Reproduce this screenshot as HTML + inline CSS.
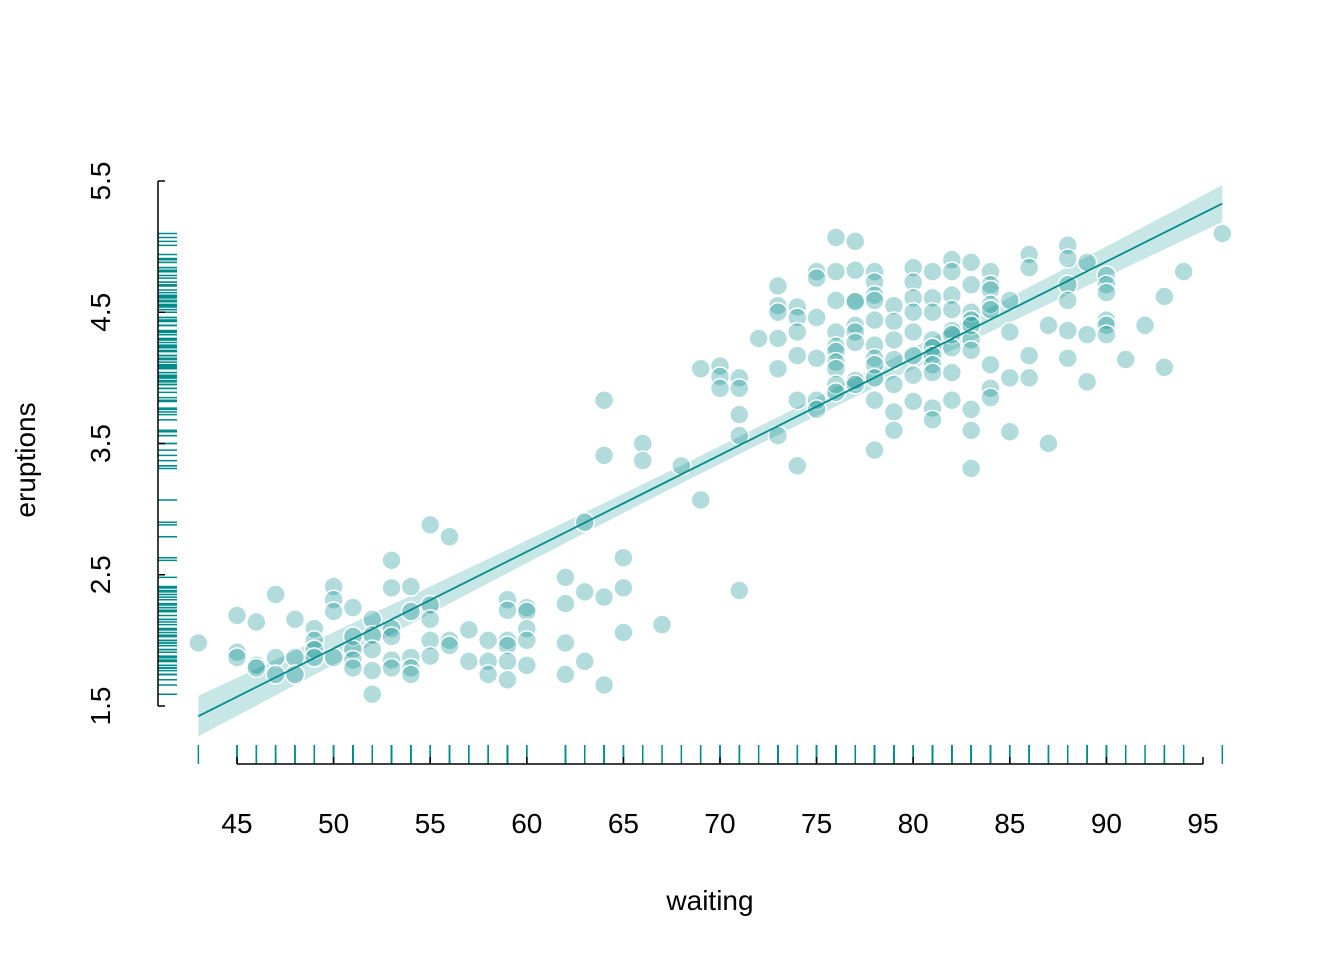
<!DOCTYPE html>
<html><head><meta charset="utf-8"><style>
html,body{margin:0;padding:0;background:#fff;overflow:hidden;width:1344px;height:960px}
svg{display:block}
svg text{font-family:"Liberation Sans",sans-serif;fill:#000}
</style></head><body>
<svg id="chart" width="1344" height="960">
<text x="710" y="910" font-size="28" text-anchor="middle">waiting</text>
<text x="35" y="460" font-size="28" text-anchor="middle" transform="rotate(-90 35 460)">eruptions</text>
</svg>
<script>
const waiting=[43,45,45,45,46,46,46,47,47,47,48,48,48,49,49,49,49,50,50,50,50,51,51,51,51,51,52,52,52,52,52,53,53,53,53,53,53,54,54,54,54,54,55,55,55,55,55,56,56,56,57,57,58,58,58,59,59,59,59,59,59,60,60,60,60,60,62,62,62,62,63,63,63,64,64,64,64,65,65,65,66,66,67,68,69,69,70,70,70,71,71,71,71,71,72,73,73,73,73,73,73,74,74,74,74,74,74,75,75,75,75,75,75,76,76,76,76,76,76,76,76,76,76,77,77,77,77,77,77,77,77,77,78,78,78,78,78,78,78,78,78,78,78,79,79,79,79,79,79,79,80,80,80,80,80,80,80,80,81,81,81,81,81,81,81,81,81,81,82,82,82,82,82,82,82,82,82,83,83,83,83,83,83,83,83,83,83,84,84,84,84,84,84,84,84,85,85,85,85,86,86,86,86,87,87,88,88,88,88,88,88,89,89,89,90,90,90,90,90,90,91,92,93,93,94,96];
const eruptions=[1.98,2.19,1.91,1.87,2.14,1.81,1.79,2.35,1.87,1.74,2.16,1.87,1.74,2.09,2.00,1.93,1.87,2.41,2.31,2.22,1.87,2.25,2.03,1.93,1.85,1.79,2.16,2.04,1.93,1.77,1.59,2.61,2.40,2.09,2.03,1.85,1.79,2.41,2.22,1.87,1.79,1.74,2.88,2.27,2.16,2.00,1.88,2.79,2.00,1.96,2.08,1.84,2.00,1.84,1.74,2.31,2.23,2.00,1.96,1.84,1.70,2.25,2.22,2.09,2.00,1.81,2.48,2.28,1.98,1.74,2.90,2.37,1.84,3.83,3.41,2.33,1.66,2.63,2.40,2.06,3.50,3.37,2.12,3.33,4.07,3.07,4.09,4.01,3.92,4.00,3.92,3.72,3.56,2.38,4.30,4.70,4.55,4.50,4.30,4.07,3.56,4.54,4.46,4.35,4.17,3.83,3.33,4.81,4.76,4.46,4.15,3.83,3.76,5.07,4.81,4.59,4.35,4.24,4.20,4.12,4.07,3.95,3.89,5.04,4.82,4.59,4.58,4.40,4.35,4.27,3.98,3.95,4.81,4.73,4.63,4.59,4.44,4.25,4.15,4.10,4.00,3.83,3.45,4.55,4.43,4.29,4.14,3.95,3.74,3.60,4.84,4.73,4.61,4.50,4.35,4.17,4.02,3.82,4.81,4.61,4.50,4.29,4.23,4.17,4.10,4.04,3.77,3.68,4.90,4.81,4.63,4.52,4.36,4.33,4.23,4.04,3.83,4.88,4.71,4.50,4.44,4.40,4.29,4.21,3.76,3.60,3.31,4.81,4.71,4.67,4.56,4.52,4.10,3.92,3.85,4.59,4.35,4.00,3.59,4.94,4.84,4.17,4.00,4.40,3.50,5.01,4.91,4.71,4.59,4.36,4.15,4.88,4.33,3.97,4.78,4.71,4.65,4.44,4.40,4.33,4.14,4.40,4.62,4.08,4.81,5.10];
const xTicks=[45,50,55,60,65,70,75,80,85,90,95];
const yTicks=[1.5,2.5,3.5,4.5,5.5];

const NS="http://www.w3.org/2000/svg";
const svg=document.getElementById('chart');
const sx=v=>237+(v-45)*19.32;
const sy=v=>706-(v-1.5)*131.25;
function mk(tag,attrs,parent){const e=document.createElementNS(NS,tag);for(const k in attrs)e.setAttribute(k,attrs[k]);(parent||svg).appendChild(e);return e;}

const n=waiting.length;
const mx=waiting.reduce((a,b)=>a+b,0)/n, my=eruptions.reduce((a,b)=>a+b,0)/n;
let sxx=0,sxy=0;for(let i=0;i<n;i++){sxx+=(waiting[i]-mx)**2;sxy+=(waiting[i]-mx)*(eruptions[i]-my);}
const b=sxy/sxx,a=my-b*mx;
let sse=0;for(let i=0;i<n;i++)sse+=(eruptions[i]-a-b*waiting[i])**2;
const s=Math.sqrt(sse/(n-2));
const xmin=Math.min(...waiting),xmax=Math.max(...waiting);
let up=[],lo=[];
for(let k=0;k<=60;k++){const x=xmin+(xmax-xmin)*k/60;const se=s*Math.sqrt(1/n+(x-mx)**2/sxx)*1.97;const f=a+b*x;up.push(sx(x)+','+sy(f+se));lo.unshift(sx(x)+','+sy(f-se));}
const band=mk('polygon',{points:up.concat(lo).join(' '),fill:'rgba(0,139,139,0.22)',stroke:'none'});



const g=mk('g',{});


for(let i=0;i<n;i++){const c=mk('circle',{cx:sx(waiting[i]),cy:sy(eruptions[i]),r:9.5,fill:'rgba(0,139,139,0.3)',stroke:'#fff','stroke-width':1.5},g);

}

const rl=mk('line',{x1:sx(xmin),y1:sy(a+b*xmin),x2:sx(xmax),y2:sy(a+b*xmax),stroke:'#008b8b','stroke-width':1.8});



const rx=mk('g',{});


waiting.forEach(w=>mk('line',{x1:sx(w),x2:sx(w),y1:745,y2:764,stroke:'#008b8b','stroke-width':1.5},rx));
const ry=mk('g',{});


eruptions.forEach(e=>mk('line',{x1:158,x2:177,y1:sy(e),y2:sy(e),stroke:'#008b8b','stroke-width':1.5},ry));

const xa=mk('g',{});


mk('line',{x1:sx(45),x2:sx(95),y1:764,y2:764,stroke:'#000','stroke-width':1.5},xa);
xTicks.forEach(t=>{mk('line',{x1:sx(t),x2:sx(t),y1:764,y2:757,stroke:'#000','stroke-width':1.5},xa);
const tx=mk('text',{x:sx(t),y:833,'font-size':28,'text-anchor':'middle'},xa);tx.textContent=t;

});
const ya=mk('g',{});


mk('line',{x1:158,x2:158,y1:sy(1.5),y2:sy(5.5),stroke:'#000','stroke-width':1.5},ya);
yTicks.forEach(t=>{mk('line',{x1:158,x2:165,y1:sy(t),y2:sy(t),stroke:'#000','stroke-width':1.5},ya);
const tx=mk('text',{x:110,y:sy(t),'font-size':28,'text-anchor':'middle',transform:`rotate(-90 110 ${sy(t)})`},ya);tx.textContent=t.toFixed(1);

});
</script>
</body></html>
